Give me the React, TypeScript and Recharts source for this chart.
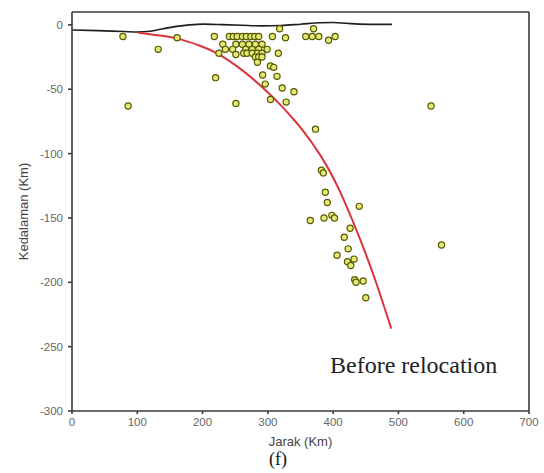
import { ComposedChart, Line, Scatter, XAxis, YAxis } from 'recharts';

// distance (km) / depth (km)
const distanceTicks = [0, 100, 200, 300, 400, 500, 600, 700];
const depthTicks = [-300, -250, -200, -150, -100, -50, 0];

const topography: [number, number][] = [
  [0, -4], [40, -4.5], [80, -5.2], [100, -5.5], [115, -5.2], [130, -4], [145, -2.5],
  [160, -1.2], [180, 0], [200, 0.6], [230, 0.2], [260, -0.3], [290, -0.8], [320, -0.5],
  [350, 0.5], [380, 1.6], [400, 1.8], [420, 1.2], [440, 0.6], [470, 0.4], [490, 0.4],
];

const slab: [number, number][] = [
  [100, -6], [130, -8], [160, -10.5], [195, -16], [225, -23], [260, -35], [286, -46],
  [317, -61], [337, -72], [352, -81], [380, -101], [410, -129], [440, -165], [465, -199],
  [489, -236],
];

const hypocenters: [number, number][] = [
  // scattered / outliers
  [78, -9], [86, -63], [132, -19], [161, -10], [218, -9], [220, -41], [251, -61],
  [550, -63], [566, -171], [373, -81],
  // shallow row
  [241, -9], [247, -9], [253, -9], [261, -9], [267, -9], [274, -9], [280, -9], [286, -9],
  [307, -9], [327, -10], [358, -9], [368, -9], [378, -9], [393, -12], [403, -9],
  [318, -3], [370, -3],
  [231, -15], [251, -15], [261, -15], [271, -15], [281, -15], [291, -15],
  [235, -19], [246, -19], [266, -19], [276, -19], [286, -19], [299, -19],
  [225, -22], [263, -22], [268, -22], [276, -22], [284, -22], [291, -22], [316, -22],
  [251, -23], [281, -25], [286, -25], [291, -25], [284, -29],
  [304, -32], [309, -33], [314, -40], [292, -39], [296, -46], [322, -49], [340, -52],
  [304, -58], [328, -60],
  // deep cluster
  [382, -113], [385, -115], [388, -130], [391, -138], [440, -141], [365, -152],
  [386, -150], [398, -148], [402, -150], [426, -158], [417, -165], [423, -174],
  [406, -179], [422, -184], [427, -187], [432, -182], [433, -198], [435, -200],
  [446, -199], [450, -212],
];

const toPoints = (rows: [number, number][]) => rows.map(([x, y]) => ({ x, y }));

const frame = '#3a3a3a';
const sans = 'Liberation Sans, Arial, sans-serif';
const tickStyle = { fontSize: 11.5, fill: '#666', fontFamily: sans };

const Ring = (props: any) => (
  <circle cx={props.cx} cy={props.cy} r={3.1} fill="#e6e876" stroke="#565a00" strokeWidth={1.2} />
);

export default function App() {
  return (
    <div style={{ position: 'absolute', left: 0, top: 0, width: 544, height: 473, background: '#fff' }}>
      <ComposedChart
        width={544}
        height={473}
        margin={{ top: 7, right: 10, bottom: 26, left: 0 }}
      >
        <XAxis
          xAxisId="bottom"
          type="number"
          dataKey="x"
          domain={[0, 700]}
          ticks={distanceTicks}
          height={36}
          tick={tickStyle}
          tickSize={3}
          tickMargin={4}
          stroke={frame}
          strokeWidth={1.6}
          label={{
            value: 'Jarak (Km)',
            position: 'insideBottom',
            offset: 1,
            style: { fontSize: 13, fill: '#444', fontFamily: sans },
          }}
        />
        <XAxis
          xAxisId="top"
          orientation="top"
          type="number"
          domain={[0, 700]}
          ticks={distanceTicks}
          height={5}
          tickFormatter={() => ''}
          tickSize={4}
          stroke={frame}
          strokeWidth={1.6}
        />
        <YAxis
          yAxisId="left"
          type="number"
          dataKey="y"
          domain={[-300, 10]}
          ticks={depthTicks}
          width={72}
          tick={tickStyle}
          tickSize={4}
          tickMargin={5}
          stroke={frame}
          strokeWidth={1.6}
          label={{
            value: 'Kedalaman (Km)',
            angle: -90,
            position: 'insideLeft',
            offset: 23,
            style: { textAnchor: 'middle', fontSize: 13, fill: '#444', fontFamily: sans },
          }}
        />
        <YAxis
          yAxisId="right"
          orientation="right"
          type="number"
          domain={[-300, 10]}
          ticks={depthTicks}
          width={5}
          tickFormatter={() => ''}
          tickSize={4}
          stroke={frame}
          strokeWidth={1.6}
        />
        <Line
          xAxisId="bottom"
          yAxisId="left"
          data={toPoints(topography)}
          dataKey="y"
          type="monotone"
          stroke="#1e1e1e"
          strokeWidth={1.6}
          dot={false}
          isAnimationActive={false}
        />
        <Line
          xAxisId="bottom"
          yAxisId="left"
          data={toPoints(slab)}
          dataKey="y"
          type="natural"
          stroke="#d9343a"
          strokeWidth={2}
          dot={false}
          isAnimationActive={false}
        />
        <Scatter
          xAxisId="bottom"
          yAxisId="left"
          data={toPoints(hypocenters)}
          dataKey="y"
          shape={Ring}
          isAnimationActive={false}
        />
      </ComposedChart>
      <div
        style={{
          position: 'absolute',
          left: 330,
          top: 352,
          fontFamily: 'Liberation Serif, serif',
          fontSize: 24,
          color: '#222',
          whiteSpace: 'nowrap',
        }}
      >
        Before relocation
      </div>
      <div
        style={{
          position: 'absolute',
          left: 0,
          width: 556,
          top: 449,
          textAlign: 'center',
          fontFamily: 'Liberation Serif, serif',
          fontSize: 18,
          color: '#111',
        }}
      >
        (f)
      </div>
    </div>
  );
}
